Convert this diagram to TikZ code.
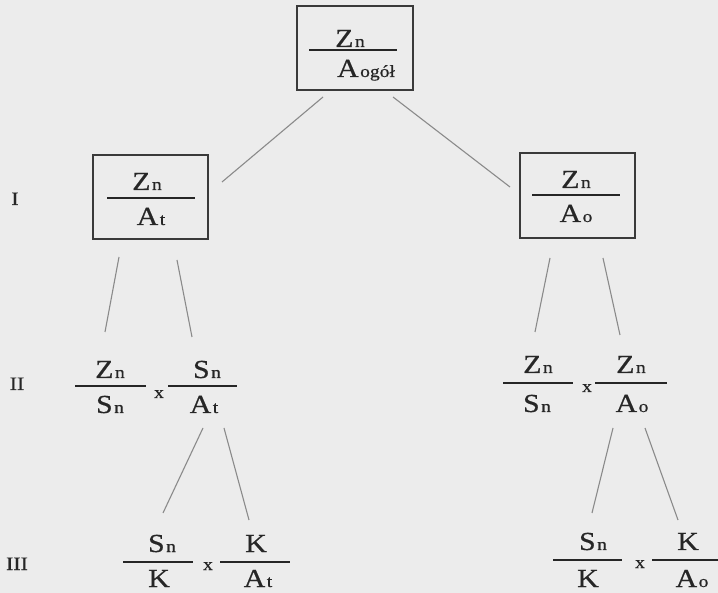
\documentclass[tikz,border=0pt]{standalone}
\usepackage{fontspec}
\setmainfont{Liberation Serif}[FakeStretch=1.15,FakeBold=0.6]
\definecolor{bgc}{HTML}{ECECEC}
\definecolor{inkc}{HTML}{262626}
\definecolor{linec}{HTML}{8A8A8A}
\definecolor{boxc}{HTML}{3A3A3A}
\newcommand{\lowsub}[1]{\kern1.5pt{\fontsize{17}{17}\selectfont #1}}
\tikzset{
  txt/.style={anchor=base, inner sep=0pt, text=inkc, font=\fontsize{26}{26}\selectfont},
  lvl/.style={anchor=base, inner sep=0pt, text=inkc, font=\fontsize{19}{19}\selectfont},
  times/.style={anchor=base, inner sep=0pt, text=inkc, font=\fontsize{17}{17}\selectfont},
  fbox/.style={draw=boxc, line width=1.5pt, inner sep=0pt},
  bar/.style={draw=inkc, line width=1.4pt},
  conn/.style={draw=linec, line width=1.1pt},
}
\begin{document}
\begin{tikzpicture}[x=1pt,y=-1pt]
\fill[bgc] (0,0) rectangle (718,593);
\useasboundingbox (0,0) rectangle (718,593);

% boxes
\node[fbox, minimum width=116pt, minimum height=84pt] (top) at (355,48) {};
\node[fbox, minimum width=115pt, minimum height=84pt] (boxL) at (150.5,197) {};
\node[fbox, minimum width=115pt, minimum height=85pt] (boxR) at (577.5,195.5) {};

% top fraction
\node[txt] (tn) at (350,47) {Z\lowsub{n}};
\draw[bar] (309,50) -- (397,50);
\node[txt] (td) at (366,77) {A\lowsub{ogół}};

% level I
\node[lvl] (l1) at (15,205) {I};
\node[txt] (ln) at (147,190) {Z\lowsub{n}};
\draw[bar] (107,198) -- (195,198);
\node[txt] (ld) at (151,225) {A\lowsub{t}};
\node[txt] (rn) at (576,188) {Z\lowsub{n}};
\draw[bar] (532,195) -- (620,195);
\node[txt] (rd) at (576,222) {A\lowsub{o}};

% level II
\node[lvl] (l2) at (17,390) {II};
\node[txt] (a1n) at (110,378) {Z\lowsub{n}};
\draw[bar] (75,386) -- (146,386);
\node[txt] (a1d) at (110,413) {S\lowsub{n}};
\node[times] (ax) at (159,398) {x};
\node[txt] (a2n) at (207,378) {S\lowsub{n}};
\draw[bar] (168,386) -- (237,386);
\node[txt] (a2d) at (204,413) {A\lowsub{t}};

\node[txt] (b1n) at (538,373) {Z\lowsub{n}};
\draw[bar] (503,383) -- (573,383);
\node[txt] (b1d) at (537,412) {S\lowsub{n}};
\node[times] (bx) at (587,392) {x};
\node[txt] (b2n) at (631,373) {Z\lowsub{n}};
\draw[bar] (595,383) -- (667,383);
\node[txt] (b2d) at (632,412) {A\lowsub{o}};

% level III
\node[lvl] (l3) at (17,570) {III};
\node[txt] (c1n) at (162,552) {S\lowsub{n}};
\draw[bar] (123,562) -- (193,562);
\node[txt] (c1d) at (159,587) {K};
\node[times] (cx) at (208,570) {x};
\node[txt] (c2n) at (256,552) {K};
\draw[bar] (220,562) -- (290,562);
\node[txt] (c2d) at (258,587) {A\lowsub{t}};

\node[txt] (d1n) at (593,550) {S\lowsub{n}};
\draw[bar] (553,560) -- (622,560);
\node[txt] (d1d) at (588,587) {K};
\node[times] (dx) at (640,568) {x};
\node[txt] (d2n) at (688,550) {K};
\draw[bar] (652,560) -- (718,560);
\node[txt] (d2d) at (692,587) {A\lowsub{o}};

% connector end points
\coordinate (p1a) at (323,97);  \coordinate (p1b) at (222,182);
\coordinate (p2a) at (393,97);  \coordinate (p2b) at (510,187);
\coordinate (p3a) at (119,257); \coordinate (p3b) at (105,332);
\coordinate (p4a) at (177,260); \coordinate (p4b) at (192,337);
\coordinate (p5a) at (550,258); \coordinate (p5b) at (535,332);
\coordinate (p6a) at (603,258); \coordinate (p6b) at (620,335);
\coordinate (p7a) at (203,428); \coordinate (p7b) at (163,513);
\coordinate (p8a) at (224,428); \coordinate (p8b) at (249,520);
\coordinate (p9a) at (613,428); \coordinate (p9b) at (592,513);
\coordinate (p10a) at (645,428); \coordinate (p10b) at (678,520);

\draw[conn] (p1a) -- (p1b);
\draw[conn] (p2a) -- (p2b);
\draw[conn] (p3a) -- (p3b);
\draw[conn] (p4a) -- (p4b);
\draw[conn] (p5a) -- (p5b);
\draw[conn] (p6a) -- (p6b);
\draw[conn] (p7a) -- (p7b);
\draw[conn] (p8a) -- (p8b);
\draw[conn] (p9a) -- (p9b);
\draw[conn] (p10a) -- (p10b);
\end{tikzpicture}
\end{document}
